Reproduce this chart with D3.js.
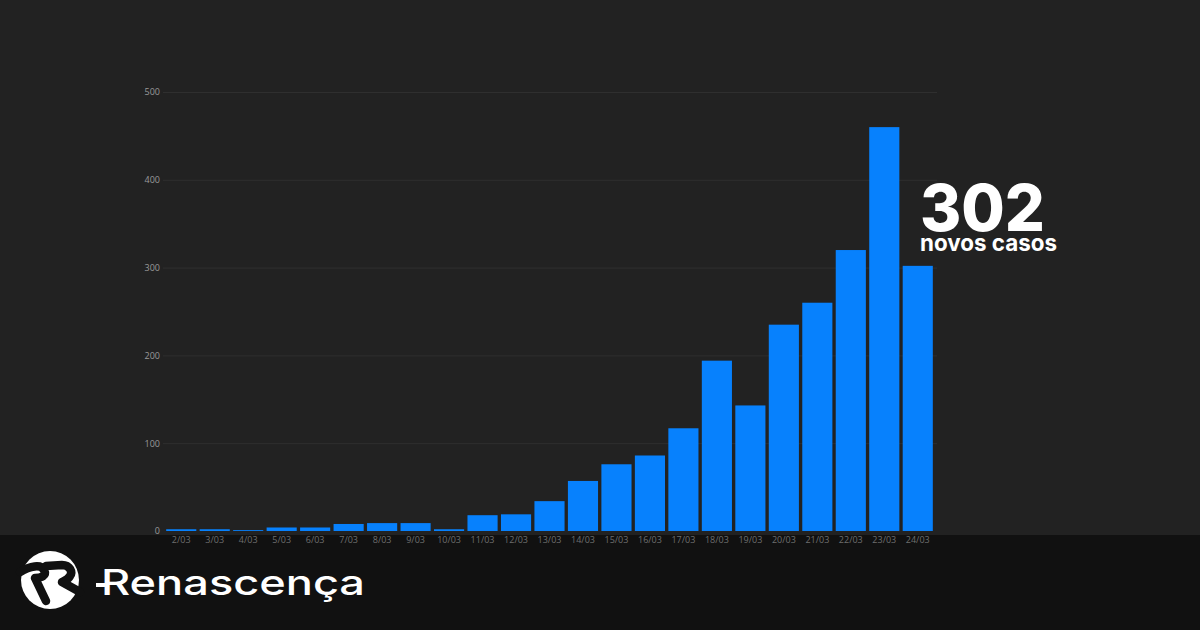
<!DOCTYPE html>
<html><head><meta charset="utf-8">
<script src="https://cdn.jsdelivr.net/npm/d3@7/dist/d3.min.js"></script>
<style>html,body{margin:0;padding:0;background:#222;}svg{display:block;}</style>
</head><body>
<svg id="c" width="1200" height="630"></svg>
<script>
const categories = ["2/03","3/03","4/03","5/03","6/03","7/03","8/03","9/03","10/03","11/03","12/03","13/03","14/03","15/03","16/03","17/03","18/03","19/03","20/03","21/03","22/03","23/03","24/03"];
const newCases = [2,2,1,4,4,8,9,9,2,18,19,34,57,76,86,117,194,143,235,260,320,460,302];
const yTicks = [0,100,200,300,400,500];
const highlightValue = "302";
const highlightLabel = "novos casos";
const brand = "Renascença";

const svg = d3.select("#c");
svg.append("rect").attr("width",1200).attr("height",630).attr("fill","#222222");
svg.append("rect").attr("x",0).attr("y",535).attr("width",1200).attr("height",95).attr("fill","#111111");

const x = d3.scaleBand().domain(categories).range([164.5,934.5]).paddingInner(0.1).paddingOuter(0.05);
const y = d3.scaleLinear().domain([0,500]).range([531,92]);

// grid
svg.append("g").selectAll("line").data(yTicks.filter(d=>d>0)).join("line")
  .attr("x1",163).attr("x2",937).attr("y1",d=>y(d)+0.5).attr("y2",d=>y(d)+0.5)
  .attr("stroke","#2f2f2f").attr("stroke-width",1);

// y axis
const ya = svg.append("g").attr("transform","translate(160,0)")
  .call(d3.axisLeft(y).tickValues(yTicks).tickSize(0).tickPadding(0));
ya.select(".domain").remove();
ya.selectAll("text").attr("fill","#9a9a9a").attr("font-size","9px").attr("font-family","'Open Sans',sans-serif");

// bars
svg.append("g").selectAll("rect").data(newCases).join("rect")
  .attr("x",(d,i)=>x(categories[i]))
  .attr("width",x.bandwidth())
  .attr("y",d=>y(d))
  .attr("height",d=>y(0)-y(d))
  .attr("fill","#0781fd");

// x axis
const xa = svg.append("g").attr("transform","translate(0,537)")
  .call(d3.axisBottom(x).tickSize(0).tickPadding(0));
xa.select(".domain").remove();
xa.selectAll("text").attr("fill","#6e6e6e").attr("font-size","9px").attr("font-family","'Open Sans',sans-serif");

// annotation
svg.append("text").attr("x",920).attr("y",231).attr("fill","#fff")
  .attr("font-family","Inter,sans-serif").attr("font-weight",800).attr("font-size","64px")
  .attr("textLength",125).attr("lengthAdjust","spacingAndGlyphs")
  .text(highlightValue);
svg.append("text").attr("x",920).attr("y",251).attr("fill","#fff")
  .attr("font-family","Inter,sans-serif").attr("font-weight",700).attr("font-size","23px")
  .attr("textLength",137).attr("lengthAdjust","spacingAndGlyphs")
  .text(highlightLabel);

// logo
const lg = svg.append("g").attr("transform","translate(50,580)");
lg.append("circle").attr("r",29).attr("fill","#ffffff");
lg.append("path").attr("d","M-30,-8 C-20,-14 -9,-16 -6,-10 C-3,-4 -9,-2 -15,-2 L-4,21")
  .attr("fill","none").attr("stroke","#111").attr("stroke-width",8.5).attr("stroke-linecap","round").attr("stroke-linejoin","round");
lg.append("path").attr("d","M-4,-14 L12,-15 C20,-15 23,-8 20,-4 C18,0 14,1 12,2 L30,12")
  .attr("fill","none").attr("stroke","#111").attr("stroke-width",8.5).attr("stroke-linecap","round").attr("stroke-linejoin","round");
svg.append("rect").attr("x",96).attr("y",583).attr("width",9).attr("height",4).attr("fill","#fff");
svg.append("text").attr("x",101).attr("y",595).attr("fill","#fff")
  .attr("font-family","Inter,sans-serif").attr("font-weight",500).attr("font-size","35px")
  .attr("textLength",264).attr("lengthAdjust","spacingAndGlyphs")
  .text(brand);
</script>
</body></html>
